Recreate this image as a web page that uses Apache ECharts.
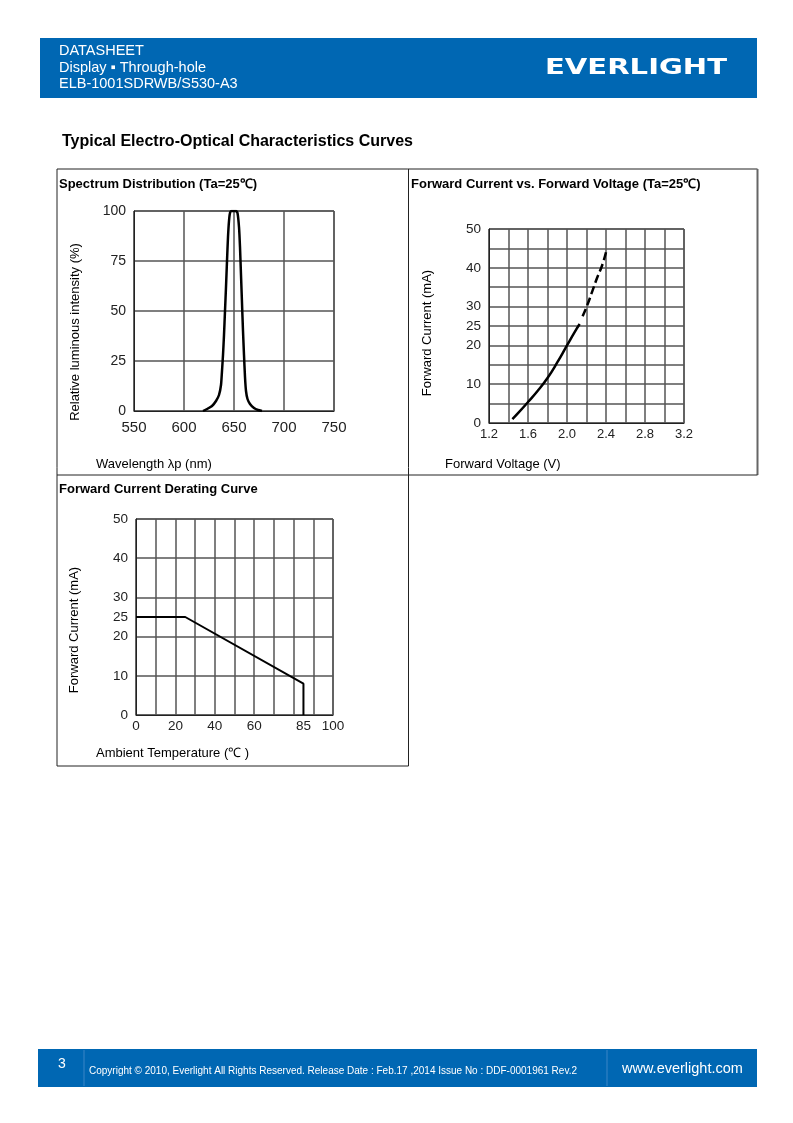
<!DOCTYPE html>
<html>
<head>
<meta charset="utf-8">
<script src="https://cdn.jsdelivr.net/npm/echarts@6/dist/echarts.min.js"></script>
<style>
html,body{margin:0;padding:0;background:#fff;}
#c{width:793px;height:1123px;}
</style>
</head>
<body>
<div id="c"></div>
<script>
// ---------- DATA ----------
// Spectrum distribution (wavelength nm, relative intensity %)
var specWavelength = [619,623,628,632,635,637,638,639,640,641,642,643,644,645,646,647.5,652,653.5,655,656,657,658,659,660,661,662,663.5,666,670,674,678];
var specIntensity  = [0,1,2.5,5,8,13,20,28,38,50,62,75,87,95,99,100,100,99,92,82,68,54,40,28,17,10,6,3.5,1.5,0.5,0];

// Forward current vs forward voltage (solid measured part, dashed extrapolated part)
var fvSolidV = [1.44,1.5,1.6,1.7,1.8,1.9,2.0,2.08,2.13];
var fvSolidI = [1,2.6,5.4,8.3,11.6,15.6,20,23.5,25.5];
var fvDashV  = [2.16,2.21,2.26,2.31,2.36,2.40];
var fvDashI  = [27.5,30.5,34,37.5,40.6,44];

// Derating curve (ambient temperature C, forward current mA)
var deratingT = [0,25,85,85];
var deratingI = [25,25,8,0];

// Tick labels
var specXTicks = [550,600,650,700,750];
var specYTicks = [0,25,50,75,100];
var fvXTicks = [1.2,1.6,2.0,2.4,2.8,3.2];
var fvYTicks = [0,10,20,25,30,40,50];
var derXTicks = [0,20,40,60,85,100];
var derYTicks = [0,10,20,25,30,40,50];

// ---------- BUILD ----------
function pairs(a,b){ return a.map(function(v,i){ return [v,b[i]]; }); }
function near(list, v){ return list.some(function(t){ return Math.abs(t - v) < 1e-6; }); }

var BLUE = '#0067b3';
var LBL = '"Liberation Sans", Arial, sans-serif';
var gridColor = '#555';
var gridW = 1.5;

var chart = echarts.init(document.getElementById('c'), null, {renderer:'canvas'});

// logo width fit
var LOGOFONT = 'bold 22px "DejaVu Sans"';
var cv = document.createElement('canvas').getContext('2d');
cv.font = LOGOFONT;
var logoW = cv.measureText('EVERLIGHT').width;
var logoScale = 182 / logoW;

function axisBase(min,max,interval,fontSize,margin,ticks,fmt){
  return {
    type:'value', min:min, max:max, interval:interval,
    axisLine:{show:true, lineStyle:{color:'#222', width:1}},
    axisTick:{show:false},
    splitLine:{show:true, lineStyle:{color:gridColor, width:gridW}},
    axisLabel:{
      show:true, fontFamily:LBL, fontSize:fontSize, color:'#222', margin:margin,
      showMinLabel:true, showMaxLabel:true,
      formatter:function(v){ return near(ticks, v) ? (fmt ? fmt(v) : String(v)) : ''; }
    }
  };
}

var xAxes = [
  Object.assign(axisBase(550,750,50,15,9,specXTicks), {gridIndex:0}),
  Object.assign(axisBase(1.2,3.2,0.2,13,5,fvXTicks,function(v){return v.toFixed(1);}), {gridIndex:1}),
  Object.assign(axisBase(0,100,10,13.5,4,derXTicks), {gridIndex:2})
];
var yAxes = [
  Object.assign(axisBase(0,100,25,14,8,specYTicks), {gridIndex:0}),
  Object.assign(axisBase(0,50,5,13.5,8,fvYTicks), {gridIndex:1}),
  Object.assign(axisBase(0,50,5,13.5,8,derYTicks), {gridIndex:2})
];
// derating: x labels at 85 need 5-interval ticks, but gridlines only every 10
xAxes[2].interval = 5;
xAxes[2].splitLine.show = false;
yAxes[2].splitLine.show = false;
// grid-only axes for derating chart
xAxes.push({type:'value', gridIndex:2, min:0, max:100, interval:10, axisLine:{show:false}, axisTick:{show:false}, axisLabel:{show:false}, splitLine:{show:true, lineStyle:{color:gridColor, width:gridW}}});
yAxes.push({type:'value', gridIndex:2, min:0, max:50, interval:10, axisLine:{show:false}, axisTick:{show:false}, axisLabel:{show:false}, splitLine:{show:true, lineStyle:{color:gridColor, width:gridW}}});

function txt(x,y,text,opt){
  opt = opt || {};
  return {
    type:'text', x:x, y:y, rotation:opt.rotation||0, silent:true, z:10,
    style:{text:text, fill:opt.fill||'#000', font:(opt.weight||'normal')+' '+(opt.size||13)+'px '+LBL,
      textAlign:opt.align||'left', textVerticalAlign:opt.valign||'middle'}
  };
}
function ln(x1,y1,x2,y2,c,w){
  return {type:'line', silent:true, z:5, shape:{x1:x1,y1:y1,x2:x2,y2:y2}, style:{stroke:c||'#222', lineWidth:w||1}};
}

var graphics = [
  // header
  {type:'rect', shape:{x:40,y:38,width:717,height:60}, style:{fill:BLUE}, silent:true},
  txt(59,51,'DATASHEET',{fill:'#fff',size:14.5}),
  txt(59,68,'Display \u25AA Through-hole',{fill:'#fff',size:14.5}),
  txt(59,84,'ELB-1001SDRWB/S530-A3',{fill:'#fff',size:14.5}),
  {type:'text', x:545, y:68.5, scaleX:logoScale, scaleY:1, originX:0, originY:0, silent:true, z:10,
    style:{text:'EVERLIGHT', fill:'#fff', font:LOGOFONT, textAlign:'left', textVerticalAlign:'middle'}},
  // page title
  txt(62,142,'Typical Electro-Optical Characteristics Curves',{weight:'bold',size:16}),
  // boxes
  ln(57,169,757.5,169),
  ln(57,169,57,766),
  ln(408.5,169,408.5,766),
  ln(757.5,169,757.5,475,'#666',2),
  ln(57,475,757.5,475),
  ln(57,766,408.5,766),
  // panel titles
  txt(59,184,'Spectrum Distribution (Ta=25\u2103)',{weight:'bold',size:13}),
  txt(411,184,'Forward Current vs. Forward Voltage (Ta=25\u2103)',{weight:'bold',size:13}),
  txt(59,489,'Forward Current Derating Curve',{weight:'bold',size:13}),
  // axis names
  txt(75,332,'Relative luminous intensity (%)',{size:13,align:'center',rotation:Math.PI/2}),
  txt(96,464,'Wavelength \u03BBp (nm)',{size:13}),
  txt(427,333,'Forward Current (mA)',{size:13,align:'center',rotation:Math.PI/2}),
  txt(445,464,'Forward Voltage (V)',{size:13}),
  txt(74,630,'Forward Current (mA)',{size:13,align:'center',rotation:Math.PI/2}),
  txt(96,753,'Ambient Temperature (\u2103 )',{size:13}),
  // footer
  {type:'rect', shape:{x:38,y:1049,width:719,height:38}, style:{fill:BLUE}, silent:true},
  ln(84,1050,84,1086,'#3a86c6',1),
  ln(607,1050,607,1086,'#3a86c6',1),
  txt(58,1064,'3',{fill:'#fff',size:14}),
  txt(89,1071,'Copyright \u00A9 2010, Everlight All Rights Reserved. Release Date : Feb.17 ,2014 Issue No : DDF-0001961 Rev.2',{fill:'#fff',size:10}),
  txt(622,1069,'www.everlight.com',{fill:'#fff',size:14.5})
];

var option = {
  animation:false,
  backgroundColor:'#fff',
  grid:[
    {left:134, top:211, width:200, height:200, show:true, borderColor:'#222', borderWidth:1},
    {left:489, top:229, width:195, height:194, show:true, borderColor:'#222', borderWidth:1},
    {left:136, top:519, width:197, height:196, show:true, borderColor:'#222', borderWidth:1}
  ],
  xAxis:xAxes,
  yAxis:yAxes,
  series:[
    {type:'line', xAxisIndex:0, yAxisIndex:0, data:pairs(specWavelength,specIntensity), smooth:0.2, symbol:'none',
      lineStyle:{color:'#000', width:2.5}},
    {type:'line', xAxisIndex:1, yAxisIndex:1, data:pairs(fvSolidV,fvSolidI), smooth:true, symbol:'none',
      lineStyle:{color:'#000', width:2.5}},
    {type:'line', xAxisIndex:1, yAxisIndex:1, data:pairs(fvDashV,fvDashI), smooth:true, symbol:'none',
      lineStyle:{color:'#000', width:2.5, type:[8,4]}},
    {type:'line', xAxisIndex:2, yAxisIndex:2, data:pairs(deratingT,deratingI), symbol:'none',
      lineStyle:{color:'#000', width:2}}
  ],
  graphic:graphics
};
chart.setOption(option);
</script>
</body>
</html>
